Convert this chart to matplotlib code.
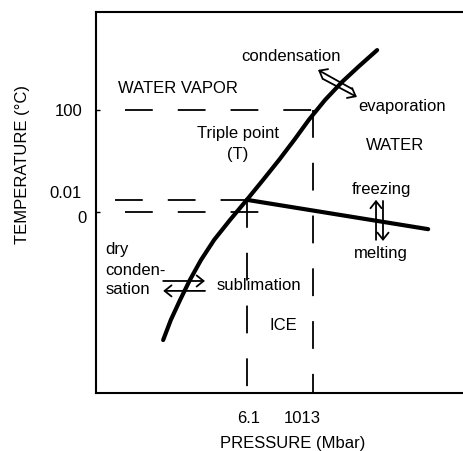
import matplotlib
matplotlib.use("Agg")
import matplotlib.pyplot as plt

plt.rcParams['font.family'] = ['Liberation Sans', 'DejaVu Sans']
plt.rcParams['lines.scale_dashes'] = False

# schematic phase diagram of water (axis frame units 0..100)
curve_x = [18.3, 20.4, 22.9, 25.6, 28.6, 32.2, 36.5, 41.1, 45.5, 49.9, 54.0, 58.0, 62.4, 67.0, 71.7, 76.6]
curve_y = [13.9, 19.2, 24.4, 29.7, 34.9, 40.2, 45.4, 50.7, 55.9, 61.2, 66.4, 71.7, 76.9, 81.6, 85.8, 90.0]

triple = (41.1, 50.7)
melt_end = (90.5, 43.0)

p_ticks = [41.1, 59.1]
p_labels = ["6.1", "1013"]
t_100, t_001, t_0 = 74.3, 50.7, 47.5

# (tail, head) of the double arrows
arrows = [
    ((69.8, 79.8), (60.5, 84.8)),
    ((61.9, 82.4), (71.1, 77.7)),
    ((76.3, 40.2), (76.3, 50.7)),
    ((78.2, 50.4), (78.2, 39.9)),
    ((18.3, 29.4), (29.7, 29.4)),
    ((29.7, 26.8), (18.3, 26.8)),
]

labels = [
    ("condensation", 53.1, 88.7),
    ("WATER VAPOR", 22.3, 80.3),
    ("evaporation", 83.4, 75.6),
    ("Triple point", 38.7, 68.5),
    ("(T)", 38.7, 63.0),
    ("WATER", 81.5, 65.4),
    ("freezing", 77.7, 53.8),
    ("melting", 77.7, 37.0),
    ("sublimation", 44.4, 28.6),
    ("ICE", 51.0, 18.1),
]
left_labels = [("dry", 38.1), ("conden-", 32.5), ("sation", 27.6)]

fig = plt.figure(figsize=(4.64, 4.51), dpi=100)
ax = fig.add_axes([96/464, 58/451, 370/464, 381/451])
ax.set_xlim(0, 370/3.67)
ax.set_ylim(0, 100)

dash = (0, (20, 18))
ax.plot([7.9, p_ticks[1]], [t_100, t_100], color='k', lw=1.3, linestyle=dash)
ax.plot([5.2, 42.8], [t_001, t_001], color='k', lw=1.3, linestyle=dash)
ax.plot([7.9, 44.7], [t_0, t_0], color='k', lw=1.3, linestyle=dash)
ax.plot([p_ticks[0], p_ticks[0]], [triple[1], 0], color='k', lw=1.3, linestyle=dash)
ax.plot([p_ticks[1], p_ticks[1]], [t_100, 0], color='k', lw=1.3, linestyle=dash)

ax.plot(curve_x, curve_y, color='k', lw=3, solid_capstyle='round', solid_joinstyle='round')
ax.plot([triple[0], melt_end[0]], [triple[1], melt_end[1]], color='k', lw=3, solid_capstyle='round')

for tail, head in arrows:
    ax.annotate("", xy=head, xytext=tail,
                arrowprops=dict(arrowstyle="->,head_length=0.5,head_width=0.4",
                                color='k', lw=1.3, shrinkA=0, shrinkB=0,
                                mutation_scale=10))

for txt, x, y in labels:
    ax.text(x, y, txt, fontsize=12, ha='center', va='center_baseline')
for txt, y in left_labels:
    ax.text(2.5, y, txt, fontsize=12, ha='left', va='center_baseline')

# axis tick texts
ax.set_xticks([])
ax.set_yticks([t_100, t_0])
ax.set_yticklabels([])
ax.tick_params(axis='y', direction='in', length=3, width=1)
ax.text(-3.8, t_100, "100", fontsize=12, ha='right', va='center_baseline')
ax.text(-3.8, 52.8, "0.01", fontsize=12, ha='right', va='center_baseline')
ax.text(-2.5, 46.2, "0", fontsize=12, ha='right', va='center_baseline')
for x, lab in zip([41.5, 56.1], p_labels):
    ax.text(x, -6.3, lab, fontsize=12, ha='center', va='center_baseline')

ax.text(53.7, -12.9, "PRESSURE (Mbar)", fontsize=12, ha='center', va='center_baseline')
ax.text(-19.9, 60.1, "TEMPERATURE (°C)", fontsize=12, ha='center', va='center', rotation=90)

for s in ax.spines.values():
    s.set_linewidth(1.5)

fig.savefig("out.png", dpi=100)
